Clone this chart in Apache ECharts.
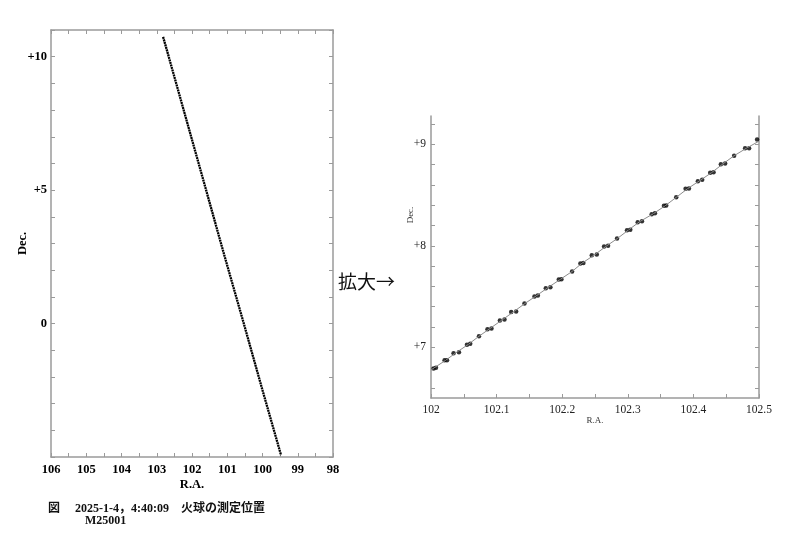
<!DOCTYPE html>
<html><head><meta charset="utf-8">
<script src="https://cdn.jsdelivr.net/npm/echarts@6/dist/echarts.min.js"></script>
<style>html,body{margin:0;padding:0;background:#fff}#c{width:800px;height:544px}</style>
</head><body><div id="c"></div>
<script>
const leftRA  = [102.82, 102.66, 102.13, 101.60, 101.07, 100.53, 100.00, 99.475];
const leftDec = [10.74, 10.00, 7.50, 5.00, 2.50, 0.00, -2.50, -4.93];
// Right chart (enlarged): measured points
const ptRA  = [102.0040,102.0076,102.0207,102.0244,102.0344,102.0426,102.0548,102.0598,102.0731,102.0861,102.0922,
  102.1050,102.1120,102.1222,102.1298,102.1425,102.1577,102.1629,102.1750,102.1820,102.1948,102.1988,102.2151,
  102.2277,102.2323,102.2451,102.2527,102.2638,102.2699,102.2836,102.2988,102.3038,102.3151,102.3216,102.3364,
  102.3414,102.3551,102.3586,102.3738,102.3881,102.3932,102.4068,102.4134,102.4256,102.4307,102.4419,102.4484,
  102.4621,102.4788,102.4849,102.4971];
const ptDec = [6.790,6.797,6.872,6.872,6.941,6.951,7.024,7.034,7.108,7.178,7.184,
  7.263,7.273,7.349,7.352,7.431,7.500,7.510,7.582,7.592,7.668,7.671,7.747,
  7.825,7.832,7.907,7.914,7.993,8.000,8.072,8.154,8.158,8.233,8.243,8.312,
  8.322,8.394,8.397,8.479,8.562,8.565,8.637,8.651,8.720,8.726,8.805,8.812,
  8.888,8.963,8.963,9.048];
// Right chart: gray trace line
const fitRA  = [102.000,102.022,102.038,102.057,102.073,102.089,102.108,102.126,102.143,102.160,102.178,102.197,102.215,102.230,102.249,102.267,102.284,102.301,102.318,102.339,102.357,102.374,102.391,102.410,102.428,102.445,102.462,102.481,102.500];
const fitDec = [6.777,6.870,6.946,7.029,7.108,7.181,7.268,7.350,7.431,7.505,7.587,7.669,7.747,7.828,7.910,7.996,8.072,8.156,8.238,8.317,8.395,8.479,8.563,8.644,8.723,8.808,8.888,8.963,9.032];
// Tick labels
const leftXLabels = [98,99,100,101,102,103,104,105,106];
const leftYLabels = [0,5,10];
const rightXLabels = [102,102.1,102.2,102.3,102.4,102.5];
const rightYLabels = [7,8,9];

const serif = 'Liberation Serif, Times New Roman, serif';
const axisGray = '#9a9a9a';
const isIn = (arr, v) => arr.some(a => Math.abs(a - v) < 1e-6);
const range = (a, b, s) => { const r = []; for (let v = a; v <= b + 1e-9; v += s) r.push(Math.round(v * 1000) / 1000); return r; };

const baseLine = { show: true, onZero: false, lineStyle: { color: axisGray, width: 1.5 } };
const tickIn = (len) => ({ show: true, inside: true, length: len, lineStyle: { color: axisGray, width: 1 } });

const chart = echarts.init(document.getElementById('c'), null, { renderer: 'canvas' });
chart.setOption({
  animation: false,
  backgroundColor: '#fff',
  grid: [
    { left: 51, right: 467, top: 30, bottom: 87 },
    { left: 431, right: 41, top: 116, bottom: 146 }
  ],
  xAxis: [
    { gridIndex: 0, type: 'value', inverse: true, min: 98, max: 106, interval: 0.5,
      axisLine: baseLine, axisTick: Object.assign(tickIn(4), { customValues: range(98, 106, 0.5) }),
      splitLine: { show: false },
      axisLabel: { customValues: leftXLabels, interval: 0, color: '#000', fontFamily: serif, fontWeight: 'bold', fontSize: 12.5, margin: 6,
        formatter: v => isIn(leftXLabels, v) ? String(Math.round(v)) : '' },
      name: 'R.A.', nameLocation: 'middle', nameGap: 21, nameMoveOverlap: false,
      nameTextStyle: { color: '#000', fontFamily: serif, fontWeight: 'bold', fontSize: 12.5 } },
    { gridIndex: 0, type: 'value', position: 'top', inverse: true, min: 98, max: 106, interval: 0.5,
      axisLine: baseLine, axisTick: Object.assign(tickIn(4), { customValues: range(98, 106, 0.5) }),
      axisLabel: { show: false }, splitLine: { show: false } },
    { gridIndex: 1, type: 'value', min: 102, max: 102.5, interval: 0.05,
      axisLine: baseLine, axisTick: Object.assign(tickIn(4), { customValues: range(102, 102.5, 0.05) }),
      splitLine: { show: false },
      axisLabel: { customValues: rightXLabels, interval: 0, color: '#222', fontFamily: serif, fontSize: 11.5, margin: 6,
        formatter: v => isIn(rightXLabels, v) ? String(Math.round(v * 10) / 10) : '' },
      name: 'R.A.', nameLocation: 'middle', nameGap: 18, nameMoveOverlap: false,
      nameTextStyle: { color: '#333', fontFamily: serif, fontSize: 9 } }
  ],
  yAxis: [
    { gridIndex: 0, type: 'value', min: -5, max: 11, interval: 1,
      axisLine: baseLine, axisTick: Object.assign(tickIn(4), { customValues: range(-5, 11, 1) }),
      splitLine: { show: false },
      axisLabel: { customValues: leftYLabels, interval: 0, color: '#000', fontFamily: serif, fontWeight: 'bold', fontSize: 12.5, margin: 4,
        formatter: v => isIn(leftYLabels, v) ? (v > 0 ? '+' + Math.round(v) : String(Math.round(v))) : '' },
      name: 'Dec.', nameLocation: 'middle', nameGap: 22, nameRotate: 90, nameMoveOverlap: false,
      nameTextStyle: { color: '#000', fontFamily: serif, fontWeight: 'bold', fontSize: 12.5 } },
    { gridIndex: 0, type: 'value', position: 'right', min: -5, max: 11, interval: 1,
      axisLine: baseLine, axisTick: Object.assign(tickIn(4), { customValues: range(-5, 11, 1) }),
      axisLabel: { show: false }, splitLine: { show: false } },
    { gridIndex: 1, type: 'value', min: 6.5, max: 9.28,
      axisLine: baseLine, axisTick: Object.assign(tickIn(4), { customValues: range(6.6, 9.2, 0.2) }),
      splitLine: { show: false },
      axisLabel: { customValues: rightYLabels, color: '#222', fontFamily: serif, fontSize: 11.5, margin: 5,
        formatter: v => '+' + Math.round(v) } },
    { gridIndex: 1, type: 'value', position: 'right', min: 6.5, max: 9.28,
      axisLine: baseLine, axisTick: Object.assign(tickIn(4), { customValues: range(6.6, 9.2, 0.2) }),
      axisLabel: { show: false }, splitLine: { show: false } }
  ],
  series: [
    { type: 'line', xAxisIndex: 0, yAxisIndex: 0, showSymbol: false, silent: true,
      lineStyle: { color: '#000', width: 2.3, type: [2, 0.6] },
      data: leftRA.map((r, i) => [r, leftDec[i]]) },
    { type: 'line', xAxisIndex: 2, yAxisIndex: 2, showSymbol: false, silent: true,
      lineStyle: { color: '#8c8c8c', width: 1 },
      data: fitRA.map((r, i) => [r, fitDec[i]]) },
    { type: 'scatter', xAxisIndex: 2, yAxisIndex: 2, symbol: 'circle', symbolSize: 4.5, silent: true,
      itemStyle: { color: '#000' },
      data: ptRA.map((r, i) => [r, ptDec[i]]) }
  ],
  graphic: [
    { type: 'text', x: 411, y: 215, rotation: Math.PI / 2,
      style: { text: 'Dec.', font: '9px "Liberation Serif", serif', fill: '#333', align: 'center', verticalAlign: 'middle' } },
    { type: 'text', left: 338, top: 272,
      style: { text: '拡大→', font: '19px "Noto Sans CJK JP", sans-serif', fill: '#111' } },
    { type: 'text', left: 48, top: 503,
      style: { text: '図　 2025-1-4，4:40:09　火球の測定位置', font: 'bold 12px "Liberation Serif", "Noto Sans CJK JP", serif', fill: '#111' } },
    { type: 'text', left: 85, top: 515,
      style: { text: 'M25001', font: 'bold 12px "Liberation Serif", serif', fill: '#111' } }
  ]
});
</script>
</body></html>
